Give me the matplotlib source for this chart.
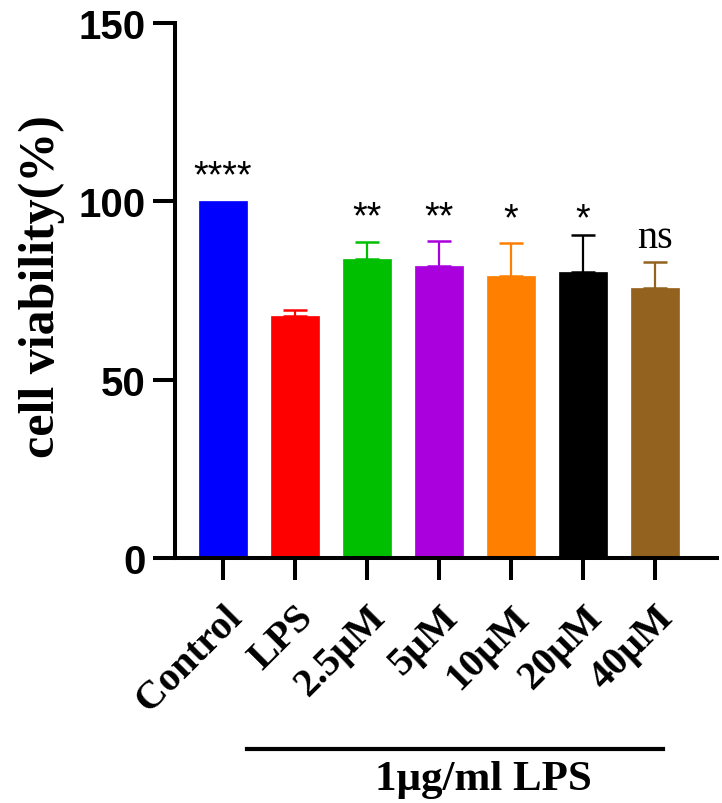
import numpy as np
import matplotlib.pyplot as plt

# datos
grupos = ['Control', 'LPS', '2.5μM', '5μM', '10μM', '20μM', '40μM']
viabilidad = [100.0, 67.9, 83.9, 82.0, 79.2, 80.2, 75.8]
error = [0.0, 1.7, 4.8, 6.8, 9.1, 10.4, 7.2]
colores = ['#0000FF', '#FF0000', '#00BF00', '#AA00DD', '#FF8000', '#000000', '#93621F']
signif = ['****', '', '**', '**', '*', '*', 'ns']
signif_y = [101.9, 0, 90.6, 90.6, 89.8, 89.8, 84.8]

W, H = 722, 804
fig = plt.figure(figsize=(W / 100, H / 100), dpi=100)
ax = fig.add_axes([175 / W, 1 - 559 / H, (717 - 175) / W, (559 - 24) / H])

x = np.arange(len(grupos))
ax.bar(x, viabilidad, width=0.667, color=colores, edgecolor=colores, linewidth=0.5, zorder=2)
for i in range(len(grupos)):
    if error[i] > 0:
        ax.errorbar(x[i], viabilidad[i], yerr=[[0], [error[i]]], fmt='none',
                    ecolor=colores[i], elinewidth=1.6, capsize=8.5, capthick=1.8, zorder=3)

# etiquetas de significancia
for i, s in enumerate(signif):
    if not s:
        continue
    if s == 'ns':
        ax.text(x[i], signif_y[i], s, ha='center', va='bottom', fontsize=29,
                family='Liberation Serif')
    else:
        ax.text(x[i], signif_y[i], s, ha='center', va='bottom', fontsize=27,
                family='Liberation Sans')

ax.set_xlim(-0.667, 6.86)
ax.set_ylim(0, 150)
ax.set_yticks([0, 50, 100, 150])
ax.set_yticklabels(['0', '50', '100', '150'], fontsize=29, fontweight='bold',
                   family='Liberation Sans')
ax.set_xticks(x)
ax.set_xticklabels(grupos, rotation=45, ha='right', va='top', rotation_mode='anchor',
                   fontsize=29, fontweight='bold', family='Liberation Serif')

ax.spines['top'].set_visible(False)
ax.spines['right'].set_visible(False)
ax.spines['left'].set_linewidth(2.9)
ax.spines['bottom'].set_linewidth(2.9)
ax.tick_params(axis='both', direction='out', length=16, width=2.9, color='black')
ax.tick_params(axis='y', pad=5)
ax.tick_params(axis='x', pad=13)

fig.text(42 / W, 1 - 287 / H, 'cell viability(%)', rotation=90, ha='center', va='center',
         fontsize=36, fontweight='bold', family='Liberation Serif')

# línea de LPS
fig.add_artist(plt.Line2D([247 / W, 663 / W], [1 - 750 / H, 1 - 750 / H],
                          color='black', linewidth=3.0))
fig.text(483 / W, 1 - 780 / H, '1μg/ml LPS', ha='center', va='center',
         fontsize=31, fontweight='bold', family='Liberation Serif')

fig.savefig('out.png', dpi=100)
